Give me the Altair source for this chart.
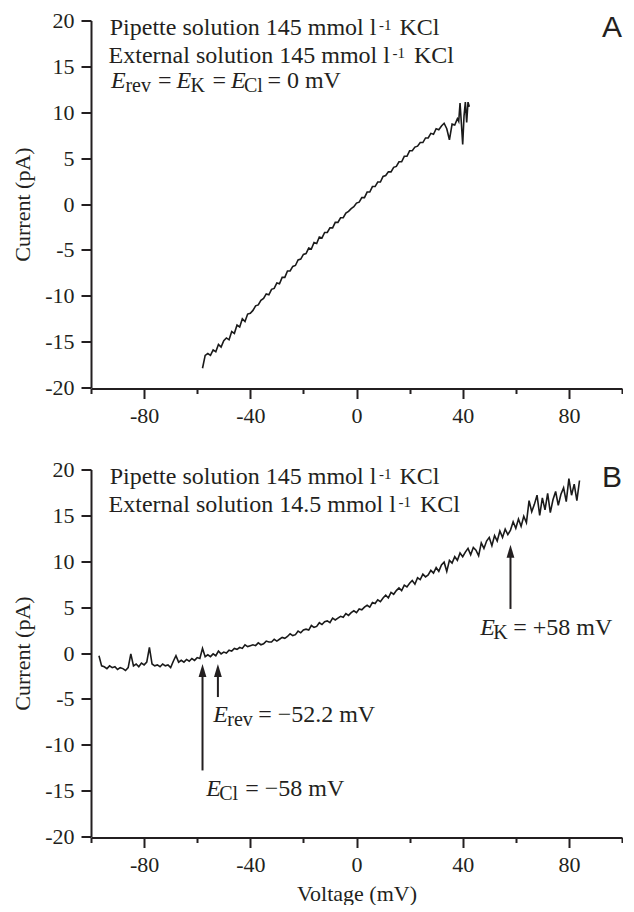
import altair as alt
import pandas as pd

# ---------------- data ----------------
# Panel A: symmetrical 145 / 145 mmol l-1 KCl
volt_a = list(range(-58, 38)) + [38, 38.5, 39, 39.5, 40, 40.5, 41, 41.5, 42, 42.5]
curr_a = [
    -17.9, -16.5, -16.3, -16.5, -15.9, -16.1, -15.3, -15.6, -14.9, -14.6,
    -14.8, -13.9, -14.1, -13.2, -13.4, -12.5, -12.8, -12.0, -11.9, -11.6,
    -11.1, -11.0, -10.5, -10.3, -9.8, -9.9, -9.3, -9.2, -8.6, -8.7,
    -8.0, -8.0, -7.3, -7.3, -6.8, -6.7, -6.1, -6.0, -5.5, -5.4,
    -4.8, -4.9, -4.2, -4.3, -3.6, -3.7, -3.1, -3.1, -2.6, -2.6,
    -2.0, -2.0, -1.5, -1.5, -1.0, -0.8, -0.5, -0.3, 0.1, 0.2,
    0.7, 0.7, 1.3, 1.3, 1.9, 1.9, 2.4, 2.4, 3.0, 3.1,
    3.5, 3.5, 4.0, 4.1, 4.6, 4.6, 5.2, 5.2, 5.8, 5.8,
    6.2, 6.3, 6.7, 6.7, 7.2, 7.2, 7.7, 7.6, 8.2, 8.1,
    8.5, 8.8, 8.2, 7.0, 8.7, 8.6,
    9.3, 9.0, 11.0, 8.8, 6.5, 9.6, 11.1, 8.9, 11.1, 10.6,
]

# Panel B: 145 mmol l-1 pipette / 14.5 mmol l-1 external KCl
volt_b = list(range(-97, 85))
curr_b = [
    -0.3, -1.4, -1.5, -1.7, -1.4, -1.6, -1.5, -1.8, -1.6, -1.7,
    -1.9, -1.6, -0.1, -1.4, -1.2, -1.5, -1.1, -1.3, -1.0, 0.6,
    -1.2, -1.4, -1.3, -1.5, -1.2, -1.4, -1.3, -1.6, -0.9, -0.3,
    -1.0, -0.8, -1.0, -0.7, -0.9, -0.6, -0.8, -0.5, -0.6, 0.5,
    -0.4, -0.2, -0.4, -0.1, -0.3, 0.2, -0.1, 0.1, 0.0, 0.3,
    0.2, 0.5, 0.4, 0.6, 0.5, 0.9, 0.7,
    0.8, 0.9, 0.8, 1.1, 0.9, 1.0, 1.3, 1.2, 1.2, 1.5,
    1.3, 1.5, 1.7, 1.6, 1.8, 2.1, 1.9, 2.0, 2.4, 2.2,
    2.5, 2.6, 2.5, 3.0, 2.8, 2.9, 3.3, 3.1, 3.4, 3.5,
    3.3, 3.8, 3.6, 3.8, 4.0, 3.9, 4.3, 4.1, 4.4, 4.6,
    4.4, 4.8, 4.7, 5.0, 5.2, 5.0, 5.5, 5.4, 5.8, 5.6,
    6.0, 6.3, 6.0, 6.6, 6.4, 6.8, 7.1, 6.8, 7.4, 7.2,
    7.6, 7.9, 7.5, 8.2, 8.0, 8.6, 8.3, 8.5, 9.0, 8.7,
    9.3, 8.9, 9.6, 9.9, 8.9, 10.1, 9.8, 10.5, 10.1, 10.9,
    10.5, 11.0, 11.4, 10.7, 11.5, 11.2, 10.6, 12.0, 11.4, 12.2,
    12.6, 11.7, 12.8, 12.2, 13.3, 12.6, 13.5, 12.9, 13.4, 14.3,
    13.6, 14.6, 13.8, 14.9, 14.2, 16.6, 15.4, 16.2, 17.2, 15.0,
    16.9, 15.6, 17.4, 15.3, 16.7, 17.6, 16.1, 17.3, 18.0, 16.5,
    19.0, 17.2, 18.4, 16.6, 18.8,
]
assert len(volt_a) == len(curr_a)
assert len(volt_b) == len(curr_b)

# Reversal / equilibrium potentials marked in panel B (mV) and arrow extents (pA)
arrow_names = ["E_Cl", "E_rev", "E_K"]
arrow_volt = [-58, -52.2, 58]
arrow_tail = [-12.8, -4.8, 4.8]
arrow_tip = [-1.2, -1.2, 11.8]
# where each annotation text starts (mV, pA)
note_volt = [-56.6, -54.0, 46.6]
note_curr = [-15.6, -7.5, 2.0]
note_sub = ["Cl", "rev", "K"]
note_rest = ["= \u221258 mV", "= \u221252.2 mV", "= +58 mV"]

x_ticks = [-100, -80, -60, -40, -20, 0, 20, 40, 60, 80, 100]
y_ticks = [-20, -15, -10, -5, 0, 5, 10, 15, 20]

# ---------------- styling ----------------
INK = "#231f20"
SERIF = "Liberation Serif"
SANS = "Liberation Sans"
W, H = 531, 367
HX = 1.4  # horizontal nudge of in-plot header text
ONE = pd.DataFrame({"k": [0]})

xscale = alt.Scale(domain=[-100, 100], nice=False, zero=False)
yscale = alt.Scale(domain=[-20, 20], nice=False, zero=False)
neg_fix = "datum.value < 0 ? '-' + abs(datum.value) : '' + datum.value"


def x_enc(title):
    return alt.X(
        "V:Q",
        scale=xscale,
        axis=alt.Axis(
            values=x_ticks,
            title=title,
            labelExpr="abs(datum.value) % 40 === 0 ? (" + neg_fix + ") : ''",
            tickSize={"condition": {"test": "abs(datum.value) % 40 === 0", "value": 10}, "value": 5},
            labelFont=SERIF,
            labelFontSize=22,
            labelPadding=7,
            titlePadding=8,
            offset=1,
        ),
    )


def y_enc():
    return alt.Y(
        "I:Q",
        scale=yscale,
        axis=alt.Axis(
            values=y_ticks,
            title="Current (pA)",
            labelExpr=neg_fix,
            labelFont=SERIF,
            labelFontSize=22,
            tickSize=10,
            labelPadding=7,
            titlePadding=10,
        ),
    )


def ptext(text, x, y, size=24, style="normal", align="left", font=SERIF, baseline="alphabetic"):
    return alt.Chart(ONE).mark_text(
        text=text, align=align, baseline=baseline, font=font,
        fontSize=size, fontStyle=style, color=INK,
    ).encode(x=alt.value(x), y=alt.value(y))


def header(second_line_main, shift):
    return [
        ptext("Pipette solution 145 mmol l", 284 + HX, 14.5, align="right"),
        ptext("-1", 286.5 + HX, 9.5, size=15),
        ptext("KCl", 307 + HX, 14.5),
        ptext(second_line_main, 297.5 + shift + HX, 42.5, align="right"),
        ptext("-1", 300 + shift + HX, 37.5, size=15),
        ptext("KCl", 321.5 + shift + HX, 42.5),
    ]


def trace(volt, curr, xtitle):
    df = pd.DataFrame({"V": volt, "I": curr})
    return alt.Chart(df).mark_line(color="#1a1a1a", strokeWidth=1.6).encode(
        x=x_enc(xtitle), y=y_enc()
    )


# ---------------- panel A ----------------
SUB = 20
line3 = [
    ptext("E", 18.6 + HX, 67.5, style="italic"),
    ptext("rev", 33 + HX, 71.5, size=SUB),
    ptext("=", 65.6 + HX, 67.5),
    ptext("E", 84 + HX, 67.5, style="italic"),
    ptext("K", 98 + HX, 71.5, size=SUB),
    ptext("=", 120 + HX, 67.5),
    ptext("E", 138.5 + HX, 67.5, style="italic"),
    ptext("Cl", 151.5 + HX, 71.5, size=SUB),
    ptext("= 0 mV", 175 + HX, 67.5),
]
panel_a = alt.layer(
    trace(volt_a, curr_a, None),
    *header("External solution 145 mmol l", 0),
    *line3,
    ptext("A", W, 7, size=30, align="right", font=SANS, baseline="middle"),
).properties(width=W, height=H)

# ---------------- panel B ----------------
arrows = pd.DataFrame({
    "name": arrow_names,
    "V": arrow_volt,
    "I": arrow_tail,
    "I2": [t - 0.8 for t in arrow_tip],
})
heads = pd.DataFrame({"name": arrow_names, "V": arrow_volt, "I": arrow_tip})

rule_layer = alt.Chart(arrows).mark_rule(color=INK, strokeWidth=2).encode(
    x=x_enc("Voltage (mV)"), y=y_enc(), y2="I2:Q"
)
head_layer = alt.Chart(heads).mark_point(
    shape="M-0.6,2L0,0L0.6,2Z", size=169, filled=True, opacity=1, color=INK, strokeWidth=0
).encode(x=x_enc("Voltage (mV)"), y=y_enc())


def dtext(text, xv, yv, dx, dy, size=24, style="normal"):
    df = pd.DataFrame({"V": [xv], "I": [yv]})
    return alt.Chart(df).mark_text(
        text=text, align="left", baseline="alphabetic", font=SERIF,
        fontSize=size, fontStyle=style, color=INK, dx=dx, dy=dy,
    ).encode(x=x_enc("Voltage (mV)"), y=y_enc())


sub_dx = [13, 14.2, 13]
rest_dx = [39, 45, 33]
notes = []
for i in range(3):
    notes.append(dtext("E", note_volt[i], note_curr[i], 0, 0, style="italic"))
    notes.append(dtext(note_sub[i], note_volt[i], note_curr[i], sub_dx[i], 4, size=SUB))
    notes.append(dtext(note_rest[i], note_volt[i], note_curr[i], rest_dx[i], 0))

panel_b = alt.layer(
    trace(volt_b, curr_b, "Voltage (mV)"),
    rule_layer,
    head_layer,
    *notes,
    *header("External solution 14.5 mmol l", 6),
    ptext("B", W, 8, size=30, align="right", font=SANS, baseline="middle"),
).properties(width=W, height=H)

chart = (
    alt.vconcat(panel_a, panel_b, spacing=82, bounds="flush")
    .properties(padding={"left": 3, "top": 1.5, "right": 0, "bottom": 0}, background="white")
    .configure_view(stroke=None)
    .configure_axis(
        grid=False,
        domainColor=INK,
        domainWidth=2,
        tickColor=INK,
        tickWidth=2,
        labelFont=SERIF,
        labelFontSize=22,
        labelColor=INK,
        titleFont=SERIF,
        titleFontSize=22,
        titleFontWeight="normal",
        titleColor=INK,
    )
)

chart.save("out.html", embed_options={"renderer": "svg", "actions": False})
